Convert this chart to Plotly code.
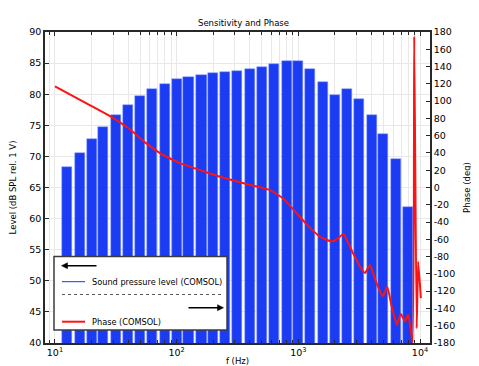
import numpy as np
import plotly.graph_objects as go

# ---- data ----
band_freqs = [12.5, 16, 20, 25, 31.5, 40, 50, 63, 80, 100, 125, 160, 200, 250, 315,
              400, 500, 630, 800, 1000, 1250, 1600, 2000, 2500, 3150, 4000, 5000, 6300, 8000]
spl_levels = [68.3, 70.6, 72.8, 74.8, 76.6, 78.2, 79.7, 80.9, 81.7, 82.4, 82.8, 83.1, 83.4, 83.5, 83.7,
              84.0, 84.3, 84.9, 85.4, 85.4, 84.1, 82.0, 79.8, 80.8, 79.3, 76.7, 73.6, 69.6, 61.9]

phase_freqs = [10, 20, 28.3, 40, 56, 73, 90, 106, 155, 227, 331, 440, 585, 747, 973, 1177, 1504,
               1878, 2075, 2340, 2810, 3206, 3527, 3875, 4395, 4930, 5380, 5850, 6460, 6935,
               7520, 8000, 8690, 8960, 9380, 9660, 10160]
phase_deg = [117, 94.2, 82.7, 68.8, 51.4, 39.9, 33, 28.3, 20.2, 12.5, 6, 1.7, -3, -12.5, -30, -43, -57,
             -62.6, -60, -53.8, -75.8, -91.5, -99, -89.6, -110.8, -126, -115, -137.8, -159, -146,
             -155, -147.5, -179, 175, -163, -86, -128]

x_tick_vals = [10, 100, 1000, 10000]
x_tick_text = ["10<sup>1</sup>", "10<sup>2</sup>", "10<sup>3</sup>", "10<sup>4</sup>"]
x_minor_vals = [m * 10 ** k for k in range(0, 4) for m in range(2, 10)]
y2_tick_vals = list(range(-180, 181, 20))
y2_tick_text = [str(v) for v in y2_tick_vals]

title_text = "Sensitivity and Phase"
x_title = "f (Hz)"
y_title = "Level (dB SPL rel. 1 V)"
y2_title = "Phase (deg)"
legend_labels = ["Sound pressure level (COMSOL)", "Phase (COMSOL)"]

# ---- layout geometry (page pixels; the page body adds an 8px offset) ----
PAGE_W, PAGE_H = 479, 366
OFF = 8
W, H = PAGE_W - OFF, PAGE_H - OFF
L, R, T, B = 45, 430, 32, 343
XR = [0.918, 4.082]
FONT = "DejaVu Sans"

def px(x):
    return (x - L) / (R - L)

def py(y):
    return (B - y) / (B - T)

BLUE = "rgb(20,54,242)"
RED = "rgb(255,18,18)"
GRID = "rgb(232,232,232)"
AX = "rgb(40,40,40)"

fig = go.Figure()

# bars on a hidden linear axis in decades (x), level axis (y)
fig.add_trace(go.Bar(
    x=np.log10(band_freqs), y=spl_levels, xaxis="x", yaxis="y",
    width=0.083, marker=dict(color=BLUE, line=dict(color="rgb(130,150,255)", width=0.5)),
    opacity=0.97, showlegend=False, name=legend_labels[0],
))

# phase on the visible log axis (x2) and right axis (y2)
fig.add_trace(go.Scatter(
    x=phase_freqs, y=phase_deg, xaxis="x2", yaxis="y2", mode="lines",
    line=dict(color=RED, width=2, shape="spline", smoothing=0.4),
    showlegend=False, name=legend_labels[1],
))

fig.update_layout(
    width=W, height=H,
    margin=dict(l=L - OFF, r=W - (R - OFF), t=T - OFF, b=H - (B - OFF), pad=0),
    paper_bgcolor="white", plot_bgcolor="white",
    font=dict(family=FONT, size=9, color="black"),
    showlegend=False,
    bargap=0,
    xaxis=dict(type="linear", range=XR, visible=False, showgrid=False, automargin=False),
    xaxis2=dict(
        type="log", range=XR, overlaying="x", anchor="y", side="bottom",
        tickvals=x_tick_vals, ticktext=x_tick_text,
        ticks="inside", ticklen=4, tickcolor=AX, tickwidth=1,
        showline=True, linecolor=AX, linewidth=1.5, mirror="ticks",
        showgrid=True, gridcolor=GRID, gridwidth=1,
        minor=dict(tickvals=x_minor_vals, ticks="inside", ticklen=3, tickcolor=AX,
                   showgrid=True, gridcolor=GRID, gridwidth=1),
        tickfont=dict(size=9.5), zeroline=False, automargin=False,
        title=dict(text=x_title, font=dict(size=8.5), standoff=2),
    ),
    yaxis=dict(
        range=[40, 90], dtick=5, ticks="inside", ticklen=4, tickcolor=AX,
        showline=True, linecolor=AX, linewidth=1.5,
        showgrid=True, gridcolor=GRID, gridwidth=1, zeroline=False,
        tickfont=dict(size=9.5), automargin=False,
        title=dict(text=y_title, font=dict(size=8.5), standoff=23),
    ),
    yaxis2=dict(
        range=[-180, 180], tickvals=y2_tick_vals, ticktext=y2_tick_text,
        overlaying="y", side="right", anchor="x",
        ticks="inside", ticklen=4, tickcolor=AX,
        showline=True, linecolor=AX, linewidth=1.5,
        showgrid=False, zeroline=False, tickfont=dict(size=9.5), automargin=False,
        title=dict(text=y2_title, font=dict(size=8.5), standoff=10),
    ),
    title=dict(text=title_text, x=0.5, xanchor="center", y=1 - (23 - OFF) / H, yanchor="middle",
               font=dict(size=8.5)),
)

# ---- legend box (drawn) ----
def arrow_head(xtip, y, direction):
    # small filled triangle in paper coordinates, pointing left (-1) or right (+1)
    xb = xtip - direction * 6
    return dict(type="path", xref="paper", yref="paper",
                path=f"M {px(xtip)} {py(y)} L {px(xb)} {py(y - 3)} L {px(xb)} {py(y + 3)} Z",
                fillcolor="black", line=dict(color="black", width=0.5), layer="above")

shapes = [
    dict(type="rect", xref="paper", yref="paper", x0=px(54), x1=px(227), y0=py(330), y1=py(256.5),
         line=dict(color="rgb(60,60,60)", width=1.5), fillcolor="white", layer="above"),
    # left arrow
    dict(type="line", xref="paper", yref="paper", x0=px(64), x1=px(96.5), y0=py(265.7), y1=py(265.7),
         line=dict(color="black", width=1.5), layer="above"),
    arrow_head(61.5, 265.7, -1),
    dict(type="line", xref="paper", yref="paper", x0=px(62), x1=px(85), y0=py(281.7), y1=py(281.7),
         line=dict(color=BLUE, width=1), layer="above"),
    dict(type="line", xref="paper", yref="paper", x0=px(62), x1=px(223), y0=py(294.5), y1=py(294.5),
         line=dict(color="rgb(90,90,90)", width=1, dash="dot"), layer="above"),
    # right arrow
    dict(type="line", xref="paper", yref="paper", x0=px(188.5), x1=px(221), y0=py(307.7), y1=py(307.7),
         line=dict(color="black", width=1.5), layer="above"),
    arrow_head(223.5, 307.7, 1),
    dict(type="line", xref="paper", yref="paper", x0=px(62), x1=px(85), y0=py(321.7), y1=py(321.7),
         line=dict(color=RED, width=2), layer="above"),
]
fig.update_layout(shapes=shapes)

annotations = [
    dict(xref="paper", yref="paper", x=px(89.5), y=py(281.7), text=legend_labels[0], showarrow=False,
         xanchor="left", yanchor="middle", font=dict(size=8.2)),
    dict(xref="paper", yref="paper", x=px(89.5), y=py(321.7), text=legend_labels[1], showarrow=False,
         xanchor="left", yanchor="middle", font=dict(size=8.2)),
]
fig.update_layout(annotations=annotations)

fig.write_html("out.html")
